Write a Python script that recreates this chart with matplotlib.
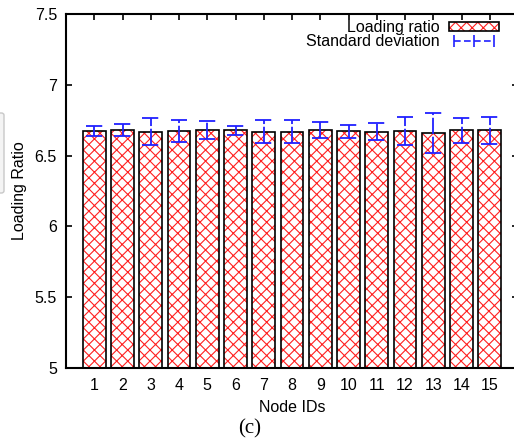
import matplotlib
matplotlib.use('Agg')
import matplotlib.pyplot as plt
from matplotlib.patches import Patch, FancyBboxPatch
from matplotlib.lines import Line2D

# values
node_ids = list(range(1, 16))
loading_ratio = [6.675, 6.68, 6.67, 6.675, 6.68, 6.678, 6.67, 6.67,
                 6.678, 6.672, 6.67, 6.675, 6.66, 6.678, 6.678]
std_dev = [0.037, 0.042, 0.096, 0.077, 0.064, 0.032, 0.082, 0.082,
           0.056, 0.045, 0.062, 0.10, 0.142, 0.09, 0.097]
y_ticks = [5, 5.5, 6, 6.5, 7, 7.5]
y_tick_labels = ['5', '5.5', '6', '6.5', '7', '7.5']

plt.rcParams['font.family'] = ['Liberation Sans', 'DejaVu Sans']
plt.rcParams['hatch.linewidth'] = 0.8

W, H = 514, 442
fig = plt.figure(figsize=(W / 100, H / 100), dpi=100)
# axes run a little past the right edge (the original is cropped there)
ax = fig.add_axes([66 / W, 1 - 368 / H, 452 / W, 354 / H])

# hatched bars: red hatch first, then black outline
ax.bar(node_ids, loading_ratio, width=0.8, facecolor='white',
       edgecolor='#ff2020', hatch='xxx', linewidth=0, zorder=2)
ax.bar(node_ids, loading_ratio, width=0.8, fill=False,
       edgecolor='black', linewidth=1.2, zorder=3)

# error bars (dashed, gnuplot style)
lo = [m - s for m, s in zip(loading_ratio, std_dev)]
hi = [m + s for m, s in zip(loading_ratio, std_dev)]
cap = 0.3
err_style = dict(colors='#2020ff', linewidth=1.3, linestyles=(0, (9, 1.5)), zorder=4)
ax.vlines(node_ids, lo, hi, **err_style)
ax.hlines(lo, [x - cap for x in node_ids], [x + cap for x in node_ids], **err_style)
ax.hlines(hi, [x - cap for x in node_ids], [x + cap for x in node_ids], **err_style)

ax.set_xlim(0, 16)
ax.set_ylim(5, 7.5)
ax.set_xticks(node_ids)
ax.set_yticks(y_ticks)
ax.set_yticklabels(y_tick_labels)
ax.tick_params(direction='in', length=4.3, width=1.2, top=True, right=True,
               labelsize=11.5, colors='black')
ax.tick_params(axis='x', pad=7)
ax.tick_params(axis='y', pad=6.5)
for sp in ax.spines.values():
    sp.set_linewidth(1.5)

fig.text(20 / W, 1 - 191 / H, 'Loading Ratio', rotation=90,
         ha='center', va='center', fontsize=11.5)
fig.text(292 / W, 1 - 408 / H, 'Node IDs', ha='center', va='center', fontsize=11.5)
fig.text(250 / W, 1 - 429 / H, '(c)', ha='center', va='center', fontsize=15,
         family=['Liberation Serif', 'DejaVu Serif'])

# legend in gnuplot style: text on the left, sample on the right
bar_handle = (Patch(facecolor='white', edgecolor='#ff2020', hatch='xxx', linewidth=0),
              Patch(fill=False, edgecolor='black', linewidth=1.2))
err_handle = Line2D([], [], color='#2020ff', linewidth=1.2, linestyle=(0, (4, 2)),
                    marker='|', markersize=8, markeredgewidth=1.2)
ax.legend([bar_handle, err_handle], ['Loading ratio', 'Standard deviation'],
          loc='upper right', bbox_to_anchor=(499 / W, 1 - 20 / H),
          bbox_transform=fig.transFigure, frameon=False, markerfirst=False,
          fontsize=11.5, handlelength=3.1, handleheight=0.5, handletextpad=0.6,
          labelspacing=-0.05, borderpad=0, borderaxespad=0, numpoints=3)

# small grey box at the left border of the original screenshot
fig.patches.append(FancyBboxPatch((-6 / W, 1 - 193 / H), 10 / W, 80 / H,
                                  boxstyle='round,pad=0,rounding_size=0.005',
                                  transform=fig.transFigure, facecolor='#f4f4f4',
                                  edgecolor='#c8c8c8', linewidth=1, figure=fig))

plt.savefig('out.png', dpi=100)
